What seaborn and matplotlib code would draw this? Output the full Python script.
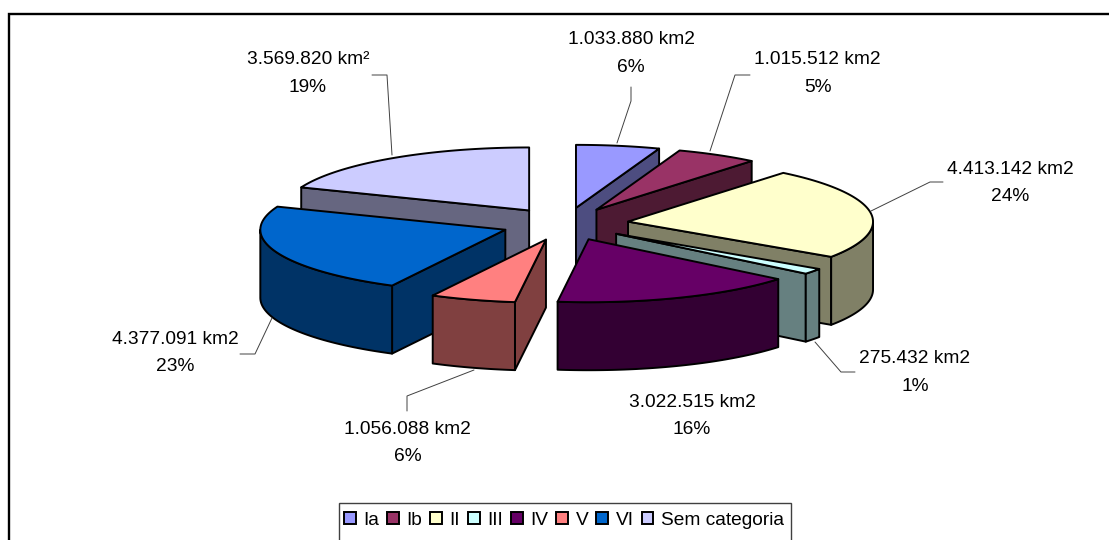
import numpy as np
import matplotlib
matplotlib.use("Agg")
import matplotlib.pyplot as plt
from matplotlib.patches import Patch, Polygon, Rectangle
import seaborn as sns

# --- Data ---
categories = ["Ia", "Ib", "II", "III", "IV", "V", "VI", "Sem categoria"]
areas_km2 = [1033880, 1015512, 4413142, 275432, 3022515, 1056088, 4377091, 3569820]
top_colors = ["#9999FF", "#993366", "#FFFFCC", "#CCFFFF", "#660066", "#FF8080", "#0066CC", "#CCCCFF"]
units = ["km2", "km2", "km2", "km2", "km2", "km2", "km2", "km²"]

# label centre and leader line for every slice, in pixels
label_pos = [(631, 53.5), (817.5, 73.5), (1010, 183), (915, 372.5), (692, 416), (407.5, 443), (175, 353), (308, 73.5)]
leaders = [
    [(617, 143), (631, 101), (631, 87)],
    [(710, 151), (735, 75), (750, 75)],
    [(871, 211), (930, 182), (943, 182)],
    [(815, 342), (841, 372), (855, 372)],
    None,
    [(474, 370), (407, 396), (407, 411)],
    [(272, 318), (255, 354), (240, 354)],
    [(392, 155), (387, 75), (372, 75)],
]

# pie geometry
cx, cy = 565, 224
rx, ry = 245, 63
explode = 0.26
depth = 68

sns.set_theme(style="white")
plt.rcParams["font.family"] = ["Liberation Sans", "DejaVu Sans"]
palette = sns.color_palette(top_colors)

fig, ax = plt.subplots(figsize=(11.09, 5.40), dpi=100)
ax.set_position([0, 0, 1, 1])
ax.set_xlim(0, 1109)
ax.set_ylim(540, 0)
ax.axis("off")

# chart frame, cut off on the right and at the bottom
ax.plot([9, 9, 1109], [540, 14, 14], color="black", lw=1.7, solid_joinstyle="miter")

# --- Slices ---
values = np.array(areas_km2, dtype=float)
fractions = values / values.sum()
ends = np.cumsum(fractions) * 2 * np.pi
starts = ends - fractions * 2 * np.pi
mids = (starts + ends) / 2


def draw_slice(i):
    top, side = palette[i], tuple(c * 0.5 for c in palette[i])
    ax0 = cx + explode * rx * np.sin(mids[i])
    ay0 = cy - explode * ry * np.cos(mids[i])

    def rim(t):
        return ax0 + rx * np.sin(t), ay0 - ry * np.cos(t)

    style = dict(edgecolor="black", lw=1.4, joinstyle="round")
    ts = np.linspace(starts[i], ends[i], 80)
    xs, ys = rim(ts)
    outline = np.column_stack([np.r_[ax0, xs], np.r_[ay0, ys]])
    centre = outline.mean(axis=0)

    # radial faces, only those turned towards the viewer
    for t in (starts[i], ends[i]):
        px, py = rim(t)
        nx, ny = -(py - ay0), px - ax0
        if (nx * (centre[0] - ax0) + ny * (centre[1] - ay0)) > 0:
            ny = -ny
        if ny > 0:
            quad = [(ax0, ay0), (px, py), (px, py + depth), (ax0, ay0 + depth)]
            ax.add_patch(Polygon(quad, facecolor=side, zorder=2, **style))

    # outer wall for the part of the rim at the front
    lo, hi = max(starts[i], np.pi / 2), min(ends[i], 3 * np.pi / 2)
    if hi > lo:
        wx, wy = rim(np.linspace(lo, hi, 60))
        wall = np.r_[np.column_stack([wx, wy]), np.column_stack([wx, wy + depth])[::-1]]
        ax.add_patch(Polygon(wall, facecolor=side, zorder=2, **style))

    ax.add_patch(Polygon(outline, facecolor=top, zorder=2, **style))


# back slices first
for i in np.argsort(-np.cos(mids)):
    draw_slice(i)

# --- Labels ---
total = sum(areas_km2)
for i, area in enumerate(areas_km2):
    text = f"{area:,}".replace(",", ".") + f" {units[i]}\n{round(area / total * 100)}%"
    ax.text(label_pos[i][0], label_pos[i][1], text, ha="center", va="center",
            fontsize=13.8, color="black", linespacing=1.8, zorder=5)
    if leaders[i]:
        lx, ly = zip(*leaders[i])
        ax.plot(lx, ly, color="#404040", lw=0.7, zorder=4)

# --- Legend ---
ax.add_patch(Rectangle((339, 502.5), 452, 60, facecolor="white", edgecolor="#404040", lw=1.0, zorder=5))
handles = [Patch(facecolor=palette[i], edgecolor="black", lw=1.4) for i in range(len(categories))]
ax.legend(handles, categories, loc="center", bbox_to_anchor=(564 / 1109, 1 - 520.5 / 540),
          ncol=len(categories), frameon=False, fontsize=13.8, handlelength=0.6, handleheight=0.6,
          handletextpad=0.4, columnspacing=0.42, borderpad=0, labelcolor="black").set_zorder(6)

plt.savefig("out.png", dpi=100)
